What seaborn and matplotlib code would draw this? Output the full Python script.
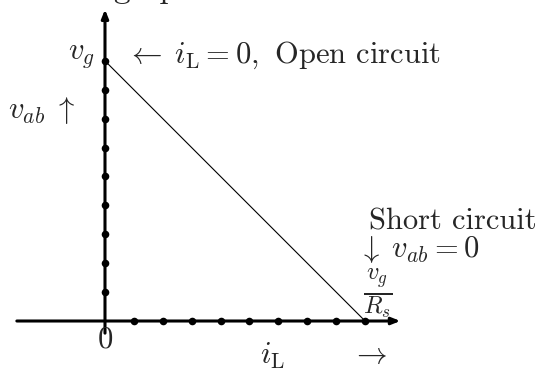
import matplotlib
matplotlib.use("Agg")
import matplotlib.pyplot as plt
import seaborn as sns
import pandas as pd

# ---- data ----
x_dots_x = [1, 2, 3, 4, 5, 6, 7, 8, 9]
x_dots_y = [0, 0, 0, 0, 0, 0, 0, 0, 0]
y_dots_x = [0, 0, 0, 0, 0, 0, 0, 0, 0]
y_dots_y = [1, 2, 3, 4, 5, 6, 7, 8, 9]
line_x = [0, 9]
line_y = [9, 0]

sns.set_style("white")
plt.rcParams['font.family'] = ['serif']
plt.rcParams['font.serif'] = ['cmr10', 'DejaVu Serif']
plt.rcParams['mathtext.fontset'] = 'cm'
plt.rcParams['axes.unicode_minus'] = False

fig = plt.figure(figsize=(5.41, 3.71), dpi=100)
ax = fig.add_axes([0, 0, 1, 1])
ax.axis('off')

# axes with arrows
ax.annotate('', xy=(10.22, 0), xytext=(-3.05, 0),
            arrowprops=dict(arrowstyle='-|>,head_length=0.5,head_width=0.2',
                            lw=2.2, color='black', shrinkA=0, shrinkB=0))
ax.annotate('', xy=(0, 10.78), xytext=(0, -0.42),
            arrowprops=dict(arrowstyle='-|>,head_length=0.5,head_width=0.2',
                            lw=2.2, color='black', shrinkA=0, shrinkB=0))

# load line
df_line = pd.DataFrame({'x': line_x, 'y': line_y})
sns.lineplot(data=df_line, x='x', y='y', ax=ax, color='black', lw=0.8,
             sort=False, estimator=None)

# dots
df_x = pd.DataFrame({'x': x_dots_x, 'y': x_dots_y})
df_y = pd.DataFrame({'x': y_dots_x, 'y': y_dots_y})
for d in (df_x, df_y):
    sns.scatterplot(data=d, x='x', y='y', ax=ax, color='black', s=30,
                    edgecolor='black', linewidth=0, zorder=5)

ax.set_xlim(-3.633, 15.087)
ax.set_ylim(-1.730, 11.107)
ax.set_xlabel('')
ax.set_ylabel('')

fs = 22
ax.text(-0.35, 9.15, r'$v_g$', fontsize=fs, ha='right', va='center')
ax.text(0.72, 8.95, r'$\leftarrow\; i_{\mathrm{L}} = 0,$ Open circuit', fontsize=fs,
        ha='left', va='baseline')
ax.text(-3.35, 7.02, r'$v_{ab}\;\uparrow$', fontsize=fs, ha='left', va='baseline')
ax.text(9.15, 3.15, 'Short circuit', fontsize=fs, ha='left', va='baseline')
ax.text(8.75, 2.2, r'$\downarrow\; v_{ab} = 0$', fontsize=fs, ha='left', va='baseline')
ax.text(9.45, 0.93, r'$\frac{v_g}{R_s}$', fontsize=25, ha='center', va='center')
ax.text(0.0, -0.66, '0', fontsize=fs, ha='center', va='center')
ax.text(5.78, -1.2, r'$i_{\mathrm{L}}$', fontsize=fs, ha='center', va='center')
ax.text(9.13, -1.2, r'$\rightarrow$', fontsize=fs, ha='center', va='center')

fig.text(0.21, 1.005, 'graph', fontsize=24, fontweight='bold', ha='left',
         va='baseline')

fig.savefig('out.png', dpi=100)
